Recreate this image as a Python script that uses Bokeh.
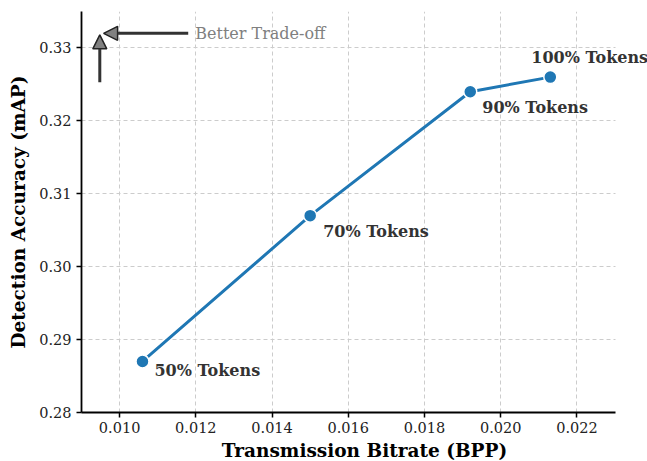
from bokeh.plotting import figure
from bokeh.models import Arrow, NormalHead, Label, FixedTicker, NumeralTickFormatter, ColumnDataSource, Range1d
from bokeh.embed import file_html
from bokeh.resources import INLINE

# ---- data ----
bitrate = [0.0106, 0.0150, 0.0192, 0.0213]
accuracy = [0.287, 0.307, 0.324, 0.326]
token_labels = ["50% Tokens", "70% Tokens", "90% Tokens", "100% Tokens"]
x_ticks = [0.010, 0.012, 0.014, 0.016, 0.018, 0.020, 0.022]
y_ticks = [0.28, 0.29, 0.30, 0.31, 0.32, 0.33]
annotation_text = "Better Trade-off"

# ---- style ----
FONT = "DejaVu Serif"
BLUE = "#1f77b4"
label_offsets = [(12, -9), (13, -16), (12, -16), (-19, 20)]
X_AXIS_END = 0.023

p = figure(
    width=647, height=461,
    frame_width=566, frame_height=401,
    min_border_left=81, min_border_right=0, min_border_top=11, min_border_bottom=49,
    x_range=Range1d(0.009, 0.02385), y_range=Range1d(0.28, 0.335),
    output_backend="svg", toolbar_location=None,
)
p.outline_line_color = None
p.background_fill_color = "white"

src = ColumnDataSource(dict(x=bitrate, y=accuracy, label=token_labels))
p.line("x", "y", source=src, line_color=BLUE, line_width=3)
p.scatter("x", "y", source=src, size=13, fill_color=BLUE, line_color="white", line_width=1.5)

for xv, yv, txt, (dx, dy) in zip(bitrate, accuracy, token_labels, label_offsets):
    p.add_layout(Label(x=xv, y=yv, text=txt, x_offset=dx, y_offset=dy,
                       text_font=FONT, text_font_style="bold", text_font_size="16px",
                       text_color="#333333", text_baseline="middle", text_align="left"))

# Better trade-off arrows
head_h = NormalHead(size=14, fill_color="#808080", line_color="#222222", line_width=1.5)
p.add_layout(Arrow(end=head_h, x_start=0.0118, y_start=0.332, x_end=0.00958, y_end=0.332,
                   line_color="#333333", line_width=3))
head_v = NormalHead(size=14, fill_color="#808080", line_color="#222222", line_width=1.5)
p.add_layout(Arrow(end=head_v, x_start=0.00948, y_start=0.3253, x_end=0.00948, y_end=0.3318,
                   line_color="#333333", line_width=3))
p.add_layout(Label(x=0.0118, y=0.332, x_offset=7, text=annotation_text,
                   text_font=FONT, text_font_size="16px", text_color="#808080",
                   text_baseline="middle"))

# axes
for ax in (p.xaxis, p.yaxis):
    ax.axis_line_width = 1.8
    ax.axis_line_color = "black"
    ax.major_tick_line_color = "black"
    ax.major_tick_line_width = 1.5
    ax.major_tick_out = 5
    ax.major_tick_in = 0
    ax.minor_tick_line_color = None
    ax.major_label_text_font = FONT
    ax.major_label_text_font_size = "14.5px"
    ax.major_label_text_color = "#222222"
    ax.axis_label_text_font = FONT
    ax.axis_label_text_font_style = "bold"
    ax.axis_label_text_font_size = "18.5px"
    ax.axis_label_text_color = "black"

p.xaxis.bounds = (0.009, X_AXIS_END)
p.xaxis.ticker = FixedTicker(ticks=x_ticks)
p.yaxis.ticker = FixedTicker(ticks=y_ticks)
p.xaxis.formatter = NumeralTickFormatter(format="0.000")
p.yaxis.formatter = NumeralTickFormatter(format="0.00")
p.xaxis.axis_label = "Transmission Bitrate (BPP)"
p.yaxis.axis_label = "Detection Accuracy (mAP)"
p.xaxis.major_label_standoff = 4
p.xaxis.axis_label_standoff = 4
p.yaxis.major_label_standoff = 5
p.yaxis.axis_label_standoff = 7

p.xgrid.ticker = FixedTicker(ticks=x_ticks)
p.ygrid.ticker = FixedTicker(ticks=y_ticks)
for g in (p.xgrid, p.ygrid):
    g.grid_line_color = "#cccccc"
    g.grid_line_dash = "4 3"
    g.grid_line_width = 1
if "cross_bounds" in p.ygrid.properties():
    p.ygrid.cross_bounds = (0.009, X_AXIS_END)

open("out.html", "w").write(file_html(p, INLINE))
